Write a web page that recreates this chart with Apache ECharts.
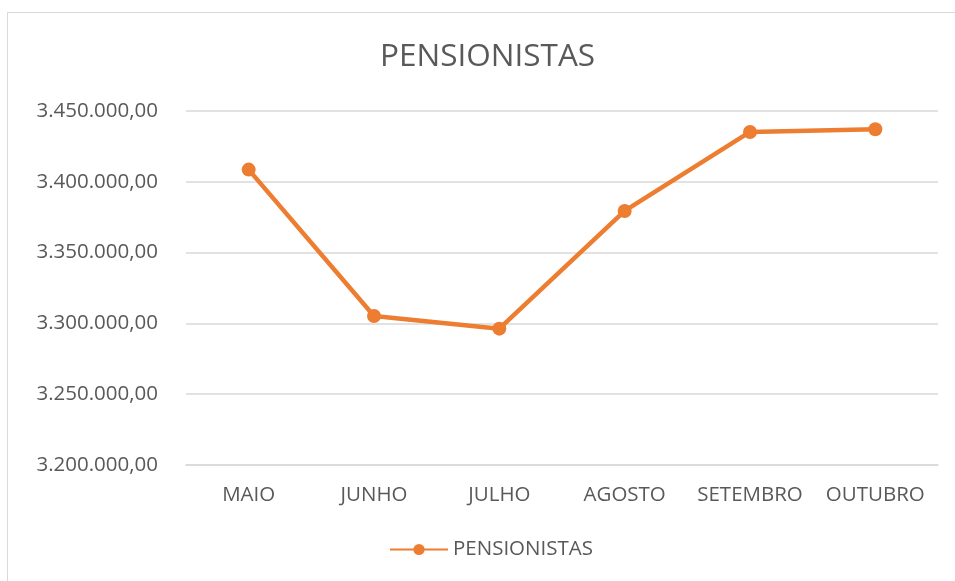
<!DOCTYPE html>
<html lang="pt">
<head>
    <meta charset="UTF-8">
    <title>PENSIONISTAS</title>
    <script src="https://cdn.jsdelivr.net/npm/echarts@6/dist/echarts.min.js"></script>
</head>
<body style="margin:0">
<div id="main" style="width: 955px;height:581px;"></div>
<script>
    const meses = ['MAIO', 'JUNHO', 'JULHO', 'AGOSTO', 'SETEMBRO', 'OUTUBRO'];
    const pensionistas = [3408600, 3305200, 3296300, 3379400, 3435200, 3437100];

    // 3450000 -> "3.450.000,00"
    function formatBR(v) {
        const s = String(Math.round(v)).replace(/\B(?=(\d{3})+(?!\d))/g, '.');
        return s + ',00';
    }

    const myChart = echarts.init(document.getElementById('main'));
    const fonte = '"Open Sans", sans-serif';
    const option = {
        backgroundColor: '#fff',
        graphic: [{
            type: 'rect',
            shape: {x: 7.5, y: 12.5, width: 1000, height: 1000},
            style: {fill: 'none', stroke: '#d9d9d9', lineWidth: 1}
        }],
        title: {
            text: 'PENSIONISTAS',
            left: 375,
            top: 36,
            textStyle: {color: '#595959', fontSize: 31.5, fontWeight: 'normal', fontFamily: fonte}
        },
        legend: {
            bottom: 16,
            left: 384,
            itemWidth: 58,
            itemHeight: 14,
            itemGap: 4,
            textStyle: {color: '#595959', fontSize: 20.5, fontFamily: fonte}
        },
        grid: {left: 186, right: 17, top: 111, bottom: 116},
        xAxis: {
            type: 'category',
            data: meses,
            boundaryGap: true,
            axisLine: {lineStyle: {color: '#d9d9d9', width: 1.5}},
            axisTick: {show: false},
            axisLabel: {color: '#595959', fontSize: 20.5, fontFamily: fonte, margin: 20, interval: 0}
        },
        yAxis: {
            type: 'value',
            min: 3200000,
            max: 3450000,
            interval: 50000,
            axisLine: {show: false},
            axisTick: {show: false},
            splitLine: {lineStyle: {color: '#d9d9d9', width: 1.5}},
            axisLabel: {color: '#595959', fontSize: 20.5, fontFamily: fonte, margin: 28, formatter: formatBR}
        },
        series: [{
            name: 'PENSIONISTAS',
            type: 'line',
            data: pensionistas,
            symbol: 'circle',
            symbolSize: 14,
            itemStyle: {color: '#ED7D31'},
            lineStyle: {color: '#ED7D31', width: 4.5}
        }]
    };
    myChart.setOption(option);
</script>
</body>
</html>
